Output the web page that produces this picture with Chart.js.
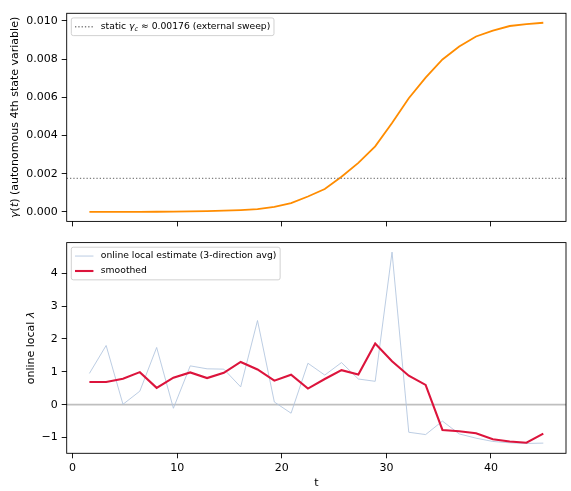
<!DOCTYPE html>
<html><head><meta charset="utf-8">
<script src="https://cdn.jsdelivr.net/npm/chart.js@4.4.1/dist/chart.umd.min.js"></script>
<style>
html,body{margin:0;padding:0;background:#fff;overflow:hidden;width:571px;height:491px}
#c1{position:absolute;left:0;top:0}
#c2{position:absolute;left:0;top:232px}
</style>
</head><body>
<canvas id="c1" width="571" height="232"></canvas>
<canvas id="c2" width="571" height="259"></canvas>
<script>
// ---- data ----
const tVals = [1.61,3.21,4.82,6.43,8.04,9.64,11.25,12.86,14.46,16.07,17.68,19.29,20.89,22.50,
               24.11,25.71,27.32,28.93,30.54,32.14,33.75,35.36,36.96,38.57,40.18,41.79,43.39,45.00];
const gammaVals = [0.000001,0.000002,0.000003,0.000005,0.000009,0.000015,0.000025,0.00004,0.000065,0.0001,
                   0.00015,0.00026,0.00046,0.00081,0.0012,0.00184,0.00257,0.00343,0.00465,0.00595,
                   0.00703,0.00798,0.00866,0.00918,0.00949,0.00973,0.00983,0.0099];
const gammaC = 0.00176;
const lambdaRaw = [0.95,1.80,0.01,0.41,1.74,-0.11,1.18,1.09,1.08,0.54,2.56,0.08,-0.26,1.26,
                   0.90,1.28,0.78,0.71,4.64,-0.84,-0.91,-0.50,-0.89,-1.02,-1.12,-1.16,-1.18,-1.17];
const lambdaSmooth = [0.69,0.69,0.79,0.99,0.51,0.82,0.98,0.81,0.97,1.30,1.07,0.73,0.91,0.49,
                      0.78,1.05,0.92,1.86,1.32,0.88,0.60,-0.77,-0.81,-0.87,-1.05,-1.12,-1.16,-0.88];
const xTicks = [0,10,20,30,40];
const xTickLabels = ['0','10','20','30','40'];
const gammaTicks = [0,0.002,0.004,0.006,0.008,0.010];
const gammaTickLabels = ['0.000','0.002','0.004','0.006','0.008','0.010'];
const lambdaTicks = [-1,0,1,2,3,4];
const lambdaTickLabels = ['\u22121','0','1','2','3','4'];
const xLim = [-0.56, 47.17];
const gammaLim = [-0.000495, 0.010395];
const lambdaLim = [-1.48, 4.93];

// ---- helpers ----
const FAM = '"DejaVu Sans"';
Chart.defaults.font.family = FAM;
Chart.defaults.font.size = 11;
Chart.defaults.color = '#000';

function fontOf(p, fs){ const s = p.sub ? fs*0.7 : fs; return (p.it ? 'italic ' : '') + s + 'px ' + FAM; }
function richWidth(ctx, parts, fs){ let w=0; for(const p of parts){ ctx.font=fontOf(p,fs); w+=ctx.measureText(p.t).width; } return w; }
function drawRich(ctx, parts, x, y, fs){
  let cx=x; ctx.textBaseline='middle'; ctx.textAlign='left';
  for(const p of parts){ ctx.font=fontOf(p,fs); ctx.fillText(p.t, cx, y + (p.sub ? fs*0.25 : 0)); cx+=ctx.measureText(p.t).width; }
}
const pts = (ys) => tVals.map((t,i)=>({x:t, y:ys[i]}));
const hline = (y) => [{x:xLim[0], y:y},{x:xLim[1], y:y}];

function xScale(showLabels){
  return {
    type:'linear', min:xLim[0], max:xLim[1],
    afterBuildTicks: s => { s.ticks = xTicks.map(v=>({value:v})); },
    grid:{drawOnChartArea:false, drawTicks:true, tickLength:5, tickColor:'#000', tickWidth:0.9},
    border:{display:false},
    ticks:{display:showLabels, padding:3, maxRotation:0, autoSkip:false, color:'#000',
           font:{size:11}, callback:(v,i)=>xTickLabels[i]},
    title: showLabels ? {display:true, text:'t', font:{size:11}, color:'#000', padding:{top:0,bottom:1.5}} : {display:false},
    afterFit: s => { s.height = showLabels ? 37.7 : 7.7; }
  };
}
function yScale(lim, ticks, labels){
  return {
    type:'linear', min:lim[0], max:lim[1],
    afterBuildTicks: s => { s.ticks = ticks.map(v=>({value:v})); },
    grid:{drawOnChartArea:false, drawTicks:true, tickLength:5, tickColor:'#000', tickWidth:0.9},
    border:{display:false},
    ticks:{padding:4, autoSkip:false, color:'#000', font:{size:11}, callback:(v,i)=>labels[i]},
    afterFit: s => { s.width = 66.7; }
  };
}

function decorPlugin(opts){
  return {
    id:'decor',
    afterDraw(chart){
      const ctx = chart.ctx, a = chart.chartArea;
      ctx.save();
      // frame
      ctx.strokeStyle='#000'; ctx.lineWidth=0.9; ctx.setLineDash([]);
      ctx.strokeRect(a.left, a.top, a.right-a.left, a.bottom-a.top);
      // y title
      ctx.fillStyle='#000';
      const fsT = 11;
      const tw = richWidth(ctx, opts.ytitle, fsT);
      ctx.save();
      ctx.translate(opts.ytitleX, (a.top+a.bottom)/2);
      ctx.rotate(-Math.PI/2);
      drawRich(ctx, opts.ytitle, -tw/2, 0, fsT);
      ctx.restore();
      // legend
      const fs = 9.22;
      const bp = 0.4*fs, hl = 2*fs, htp = 0.8*fs, rowh = 1.12*fs, ls = 0.5*fs, bap = 0.5*fs;
      let maxW = 0;
      for(const it of opts.legend){ maxW = Math.max(maxW, richWidth(ctx, it.parts, fs)); }
      const bx = a.left + bap, by = a.top + bap;
      const bw = bp + hl + htp + maxW + bp;
      const n = opts.legend.length;
      const bh = 2*bp + n*rowh + (n-1)*ls;
      ctx.beginPath();
      ctx.roundRect(bx, by, bw, bh, 2);
      ctx.fillStyle='rgba(255,255,255,0.8)'; ctx.fill();
      ctx.strokeStyle='#cccccc'; ctx.lineWidth=0.9; ctx.stroke();
      opts.legend.forEach((it, i) => {
        const cy = by + bp + rowh/2 + i*(rowh+ls);
        ctx.beginPath();
        ctx.strokeStyle = it.color; ctx.lineWidth = it.width;
        ctx.setLineDash(it.dash || []);
        ctx.lineCap='butt';
        ctx.moveTo(bx+bp, cy); ctx.lineTo(bx+bp+hl, cy); ctx.stroke();
        ctx.setLineDash([]);
        ctx.fillStyle='#000';
        drawRich(ctx, it.parts, bx+bp+hl+htp, cy, fs);
      });
      ctx.restore();
    }
  };
}

const common = {responsive:false, animation:false, devicePixelRatio: window.devicePixelRatio||1,
  plugins:{legend:{display:false}, tooltip:{enabled:false}}};

// ---- top chart ----
new Chart(document.getElementById('c1'), {
  type:'line',
  data:{datasets:[
    {label:'gamma', data:pts(gammaVals), borderColor:'#ff8c00', borderWidth:1.8, pointRadius:0, tension:0, order:2},
    {label:'static', data:hline(gammaC), borderColor:'#808080', borderWidth:1.3, borderDash:[1.3,2.0], pointRadius:0, tension:0, order:1}
  ]},
  options:Object.assign({}, common, {
    layout:{padding:{top:13.3, right:5, left:0, bottom:0}},
    scales:{x:xScale(false), y:yScale(gammaLim, gammaTicks, gammaTickLabels)}
  }),
  plugins:[decorPlugin({
    ytitleX:15.2,
    ytitle:[{t:'\u03b3',it:true},{t:'('},{t:'t',it:true},{t:')'},{t:' (autonomous 4th state variable)'}],
    legend:[{color:'#808080', width:1.3, dash:[1.3,2.0],
      parts:[{t:'static '},{t:'\u03b3',it:true},{t:'c',it:true,sub:true},{t:' \u2248 0.00176 (external sweep)'}]}]
  })]
});

// ---- bottom chart ----
new Chart(document.getElementById('c2'), {
  type:'line',
  data:{datasets:[
    {label:'zero', data:hline(0), borderColor:'rgba(128,128,128,0.5)', borderWidth:1.6, pointRadius:0, tension:0, order:3},
    {label:'online', data:pts(lambdaRaw), borderColor:'rgba(176,196,222,0.95)', borderWidth:0.9, pointRadius:0, tension:0, order:2},
    {label:'smoothed', data:pts(lambdaSmooth), borderColor:'#dc143c', borderWidth:2.1, pointRadius:0, tension:0, order:1}
  ]},
  options:Object.assign({}, common, {
    layout:{padding:{top:9, right:5, left:0, bottom:0}},
    scales:{x:xScale(true), y:yScale(lambdaLim, lambdaTicks, lambdaTickLabels)}
  }),
  plugins:[decorPlugin({
    ytitleX:31.5,
    ytitle:[{t:'online local '},{t:'\u03bb',it:true}],
    legend:[
      {color:'rgba(176,196,222,0.95)', width:0.9, parts:[{t:'online local estimate (3-direction avg)'}]},
      {color:'#dc143c', width:2.1, parts:[{t:'smoothed'}]}
    ]
  })]
});
</script>
</body></html>
